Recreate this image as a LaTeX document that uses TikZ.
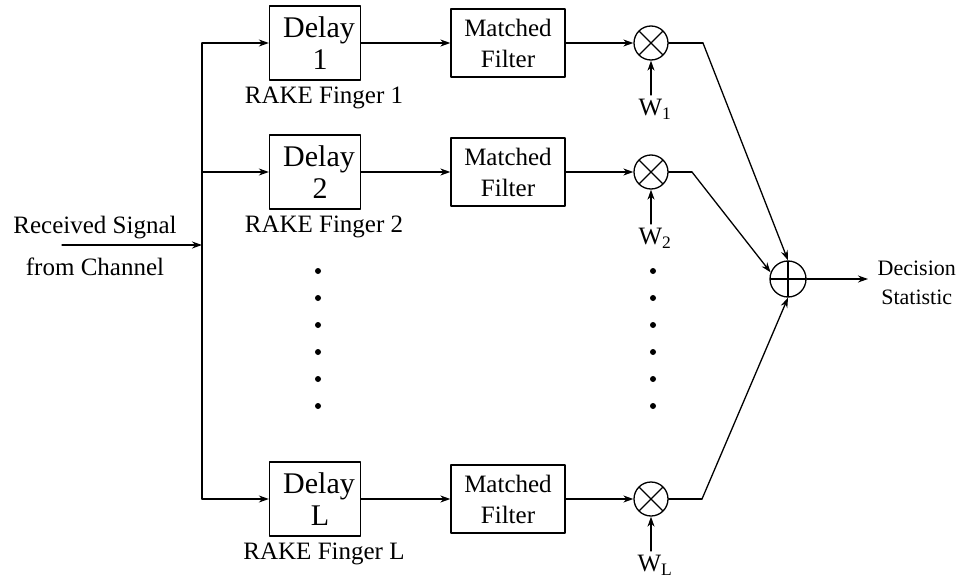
\documentclass[tikz,border=0pt]{standalone}
\usepackage{fontspec}
\setmainfont{Liberation Serif}
\usetikzlibrary{arrows.meta}
\begin{document}
\begin{tikzpicture}[x=1pt,y=-1pt,line join=round,line cap=round,>={Stealth[length=10pt,width=7pt]},line width=1.3pt,font=\fontsize{25}{31}\selectfont,
delaybox/.style={draw,minimum width=91pt,minimum height=74pt,inner sep=0pt,align=center,font=\fontsize{30}{32}\selectfont},
mfbox/.style={draw,minimum width=114pt,minimum height=68pt,inner sep=0pt,align=center},
mixer/.style={draw,circle,minimum size=34pt,inner sep=0pt,path picture={\draw (path picture bounding box.north west)--(path picture bounding box.south east) (path picture bounding box.north east)--(path picture bounding box.south west);}},
adder/.style={draw,circle,minimum size=36pt,inner sep=0pt,path picture={\draw (path picture bounding box.north)--(path picture bounding box.south) (path picture bounding box.west)--(path picture bounding box.east);}}]
\useasboundingbox (0,0) rectangle (970,586);
\def\xbus{202} \def\xs{788} \def\ys{279}
% fingers
\foreach \i/\y/\k/\xc in {1/43/1/703,2/172/2/692,3/499/L/702}{
\coordinate (b\i) at (\xbus,\y);
\node[delaybox] (d\i) at (315,\y) {\hspace*{8pt}Delay\\\hspace*{10pt}\k};
\node[below=2pt,xshift=9pt] (f\i) at (d\i.south) {RAKE Finger \k};
\node[mfbox] (mf\i) at (508,\y) {Matched\\Filter};
\node[mixer] (m\i) at (651,\y) {};
\node (w\i) at (655,\y+66) {W\textsubscript{\k}};
\coordinate (c\i) at (\xc,\y);
\draw[->] (b\i)--(d\i);
\draw[->] (d\i)--(mf\i);
\draw[->] (mf\i)--(m\i);
\draw[->] (m\i|-w\i.north)--(m\i);
\draw (m\i)--(c\i);
}
% input and bus
\node[align=center,font=\fontsize{25}{42}\selectfont] (rx) at (95,246) {Received Signal\\from Channel};
\coordinate (in) at (62,245); \coordinate (bin) at (\xbus,245);
\draw[->] (in)--(bin);
\draw (b1)--(b3);
% combiner
\node[adder] (s) at (\xs,\ys) {};
\draw[->] (c1)--(s.north);
\draw[->] (c2)--(s.159);
\draw[->] (c3)--(s.south);
\node[anchor=west,align=center,inner sep=9pt,font=\fontsize{22}{29}\selectfont] (dec) at (868,283) {Decision\\Statistic};
\draw[->] (s)--(s-|dec.west);
\foreach \yy in {271,298,...,406}
\fill (318,\yy) circle (3pt) (653,\yy) circle (3pt);
\end{tikzpicture}
\end{document}
